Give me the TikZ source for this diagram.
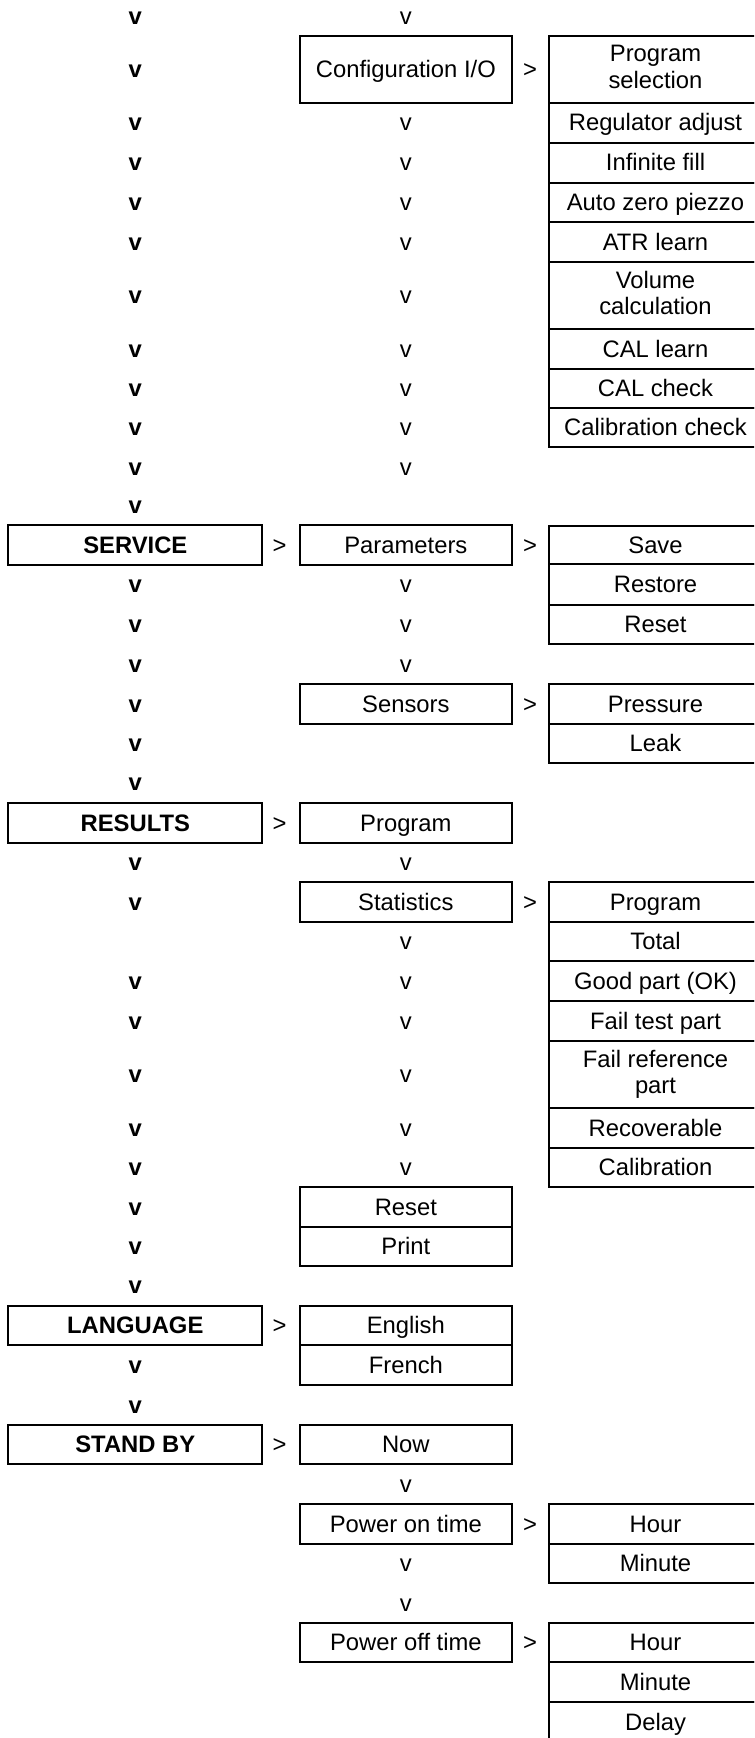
\documentclass[tikz,border=0pt]{standalone}
\usepackage{fontspec}
\setmainfont{Liberation Sans}
% strut giving every line the same ascent and descent
\newcommand{\rs}{\rule[-3.75pt]{0pt}{19.9pt}}
\begin{document}
\begin{tikzpicture}[x=0.75pt,y=-0.75pt,
  txt/.style={inner sep=0pt, outer sep=0pt,
    font=\fontsize{17.85pt}{20pt}\selectfont, execute at begin node=\rs},
  boxed/.style={txt, draw, line width=1.5pt, align=center,
    minimum height={#1*0.75pt}},
  c1/.style={boxed=#1, minimum width={254*0.75pt},
    font=\fontsize{17.85pt}{20pt}\selectfont\bfseries},
  c2/.style={boxed=#1, minimum width={211.7*0.75pt}},
  c3/.style={boxed=#1, minimum width={213*0.75pt}},
  c1/.default=39.6, c2/.default=39.6, c3/.default=39.6,
  downmain/.style={txt, font=\fontsize{17.85pt}{20pt}\selectfont\bfseries},
  downsub/.style={txt},
  gtmark/.style={txt}
]
\useasboundingbox (0,0) rectangle (754,1738);
\clip (0,0) rectangle (754,1738);

% ---- main menu column ----
\node[c1] (service)  at (135.3,545.15) {SERVICE};
\node[c1] (results)  at (135.3,823)    {RESULTS};
\node[c1] (language) at (135.3,1325.5) {LANGUAGE};
\node[c1] (standby)  at (135.3,1444.5) {STAND BY};

% ---- sub menu column ----
\node[c2=67]   (config)  at (405.85,69.2)   {Configuration I/O};
\node[c2]      (params)  at (405.85,545.15) {Parameters};
\node[c2]      (sensors) at (405.85,704)    {Sensors};
\node[c2]      (resprog) at (405.85,823)    {Program};
\node[c2=40.3] (stats)   at (405.85,901.85) {Statistics};
\node[c2]      (resreset) at (405.85,1207)  {Reset};
\node[c2]      (print)   at (405.85,1246.5) {Print};
\node[c2]      (english) at (405.85,1325.5) {English};
\node[c2]      (french)  at (405.85,1365)   {French};
\node[c2]      (now)     at (405.85,1444.5) {Now};
\node[c2]      (pon)     at (405.85,1524)   {Power on time};
\node[c2]      (poff)    at (405.85,1642.5) {Power off time};

% ---- third level column ----
\node[c3=67]   (progsel) at (655.5,69.2)   {Program\\\rs selection};
\node[c3=40]   (regadj)  at (655.5,122.7)  {Regulator adjust};
\node[c3=39.8] (inffill) at (655.5,162.6)  {Infinite fill};
\node[c3=39.5] (autozero) at (655.5,202.25) {Auto zero piezzo};
\node[c3=39.7] (atr)     at (655.5,241.85) {ATR learn};
\node[c3=67.3] (volcalc) at (655.5,295.35) {Volume\\\rs calculation};
\node[c3=39.7] (callearn) at (655.5,348.85) {CAL learn};
\node[c3=39.3] (calcheck) at (655.5,388.35) {CAL check};
\node[c3=39.3] (calibcheck) at (655.5,427.65) {Calibration check};

\node[c3=38.3] (save)    at (655.5,545.15) {Save};
\node[c3=40.2] (restore) at (655.5,584.4)  {Restore};
\node[c3=39.8] (reset)   at (655.5,624.4)  {Reset};

\node[c3=40]   (pressure) at (655.5,704)   {Pressure};
\node[c3=38.5] (leak)    at (655.5,743.25) {Leak};

\node[c3=40.3] (stprog)  at (655.5,901.85) {Program};
\node[c3=38.7] (total)   at (655.5,941.35) {Total};
\node[c3=40.3] (good)    at (655.5,980.85) {Good part (OK)};
\node[c3=40]   (failtest) at (655.5,1021)  {Fail test part};
\node[c3=67]   (failref) at (655.5,1074.5) {Fail reference\\\rs part};
\node[c3=40]   (recov)   at (655.5,1128)   {Recoverable};
\node[c3=39]   (calib)   at (655.5,1167.5) {Calibration};

\node[c3]      (onhour)  at (655.5,1524)   {Hour};
\node[c3=39]   (onmin)   at (655.5,1563.5) {Minute};
\node[c3]      (offhour) at (655.5,1642.5) {Hour};
\node[c3]      (offmin)  at (655.5,1682)   {Minute};
\node[c3]      (delay)   at (655.5,1721.75) {Delay};

% ---- "go down" marks ----
\foreach \y [count=\i] in {16,69.2,122.7,162.6,202.25,241.85,295.35,348.85,
    388.35,427.65,467,505,584.4,624.4,664.5,704,743.25,782.7,862.3,901.85,
    980.85,1021,1074.5,1128,1167.5,1207,1246.5,1285.5,1365,1405}
  \node[downmain] (vmain\i) at (135.3,\y) {v};
\foreach \y [count=\i] in {16,122.7,162.6,202.25,241.85,295.35,348.85,388.35,
    427.65,467,584.4,624.4,664.5,862.3,941.35,980.85,1021,1074.5,1128,1167.5,
    1484,1563.5,1603}
  \node[downsub] (vsub\i) at (405.85,\y) {v};

% ---- "go right" marks ----
\node[gtmark] (gt1) at (279.5,545.15) {>};
\node[gtmark] (gt2) at (279.5,823)    {>};
\node[gtmark] (gt3) at (279.5,1325.5) {>};
\node[gtmark] (gt4) at (279.5,1444.5) {>};
\node[gtmark] (gt5) at (530,69.2)     {>};
\node[gtmark] (gt6) at (530,545.15)   {>};
\node[gtmark] (gt7) at (530,704)      {>};
\node[gtmark] (gt8) at (530,901.85)   {>};
\node[gtmark] (gt9) at (530,1524)     {>};
\node[gtmark] (gt10) at (530,1642.5)  {>};
\end{tikzpicture}
\end{document}
